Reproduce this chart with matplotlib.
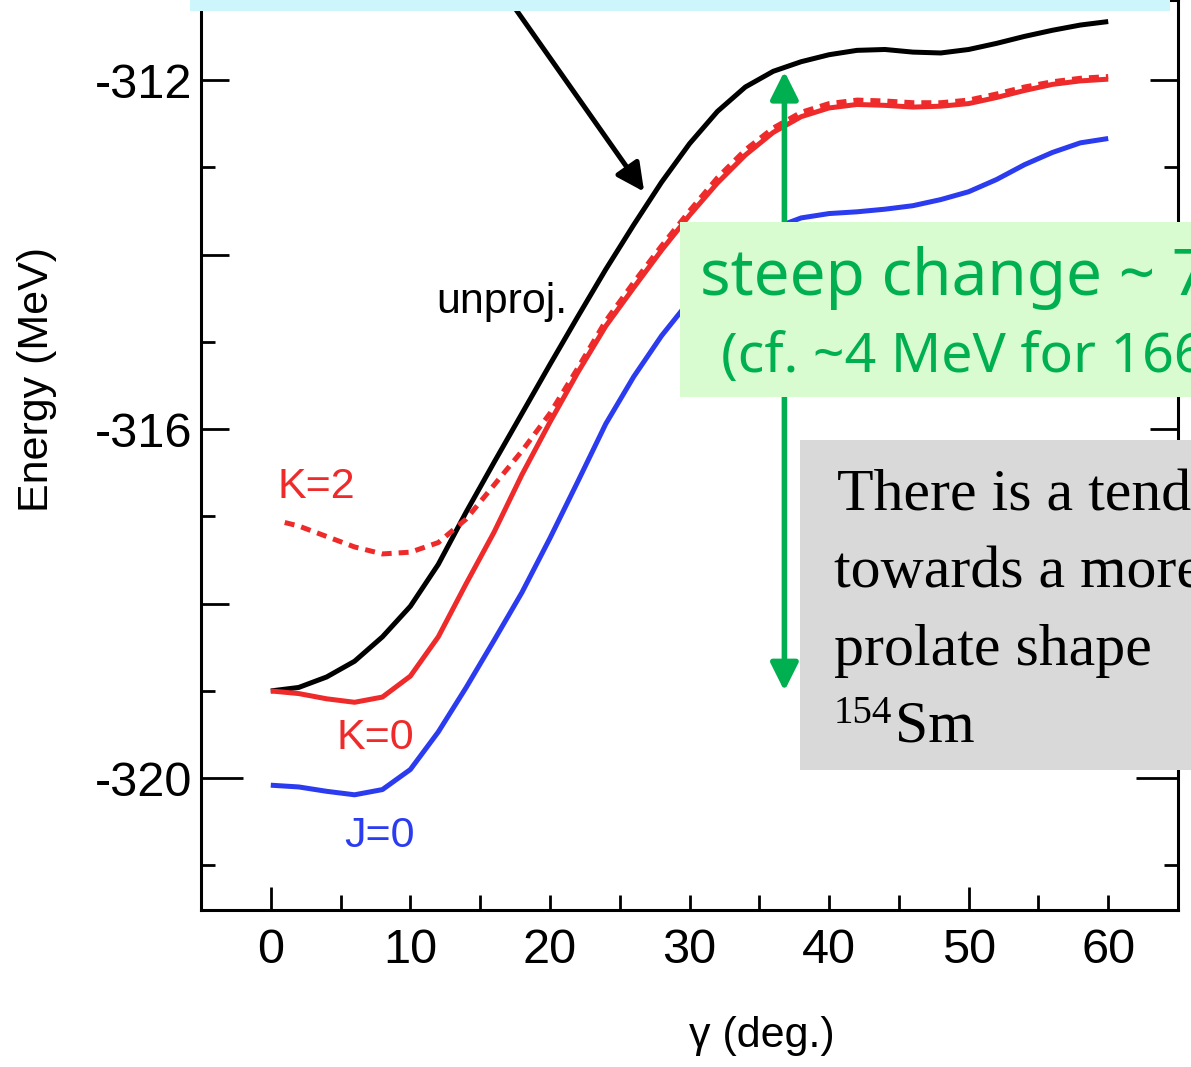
import matplotlib
matplotlib.use("Agg")
import matplotlib.pyplot as plt
from matplotlib.patches import Rectangle
from matplotlib.ticker import FixedLocator, FuncFormatter

# gamma grid (deg.)
gamma = [0, 2, 4, 6, 8, 10, 12, 14, 16, 18, 20, 22, 24, 26, 28, 30,
         32, 34, 36, 38, 40, 42, 44, 46, 48, 50, 52, 54, 56, 58, 60]

# unprojected energy surface (MeV)
e_unproj = [-319.00, -318.96, -318.84, -318.66, -318.38, -318.03, -317.55,
            -316.95, -316.38, -315.82, -315.26, -314.71, -314.17, -313.66,
            -313.17, -312.73, -312.36, -312.08, -311.90, -311.79, -311.71,
            -311.66, -311.65, -311.68, -311.69, -311.65, -311.58, -311.50,
            -311.43, -311.37, -311.33]

# K=0 projected energy (MeV)
e_k0 = [-319.00, -319.03, -319.09, -319.13, -319.07, -318.83, -318.38,
        -317.77, -317.18, -316.52, -315.92, -315.35, -314.82, -314.38,
        -313.95, -313.55, -313.18, -312.86, -312.60, -312.42, -312.32,
        -312.28, -312.29, -312.31, -312.30, -312.27, -312.20, -312.12,
        -312.05, -312.01, -311.99]

# K=2 projected energy (MeV), defined from gamma = 1 deg.
gamma_k2 = [1, 2, 4, 6, 8, 10, 12, 14, 16, 18, 20, 22, 24, 26, 28, 30,
            32, 34, 36, 38, 40, 42, 44, 46, 48, 50, 52, 54, 56, 58, 60]
e_k2 = [-317.07, -317.11, -317.23, -317.35, -317.43, -317.41, -317.30,
        -317.03, -316.64, -316.25, -315.82, -315.30, -314.76, -314.32,
        -313.90, -313.50, -313.12, -312.80, -312.55, -312.37, -312.27,
        -312.23, -312.24, -312.26, -312.26, -312.23, -312.16, -312.08,
        -312.02, -311.98, -311.96]

# J=0 projected energy (MeV)
e_j0 = [-320.08, -320.10, -320.15, -320.19, -320.13, -319.90, -319.47,
        -318.96, -318.42, -317.87, -317.25, -316.60, -315.94, -315.40,
        -314.93, -314.53, -314.19, -313.92, -313.70, -313.58, -313.53,
        -313.51, -313.48, -313.44, -313.37, -313.28, -313.14, -312.97,
        -312.83, -312.72, -312.67]

x_ticks = [0, 10, 20, 30, 40, 50, 60]
x_minor = [5, 15, 25, 35, 45, 55]
y_major = [-320, -318, -316, -314, -312]
y_minor = [-321, -319, -317, -315, -313]
y_labelled = [-320, -316, -312]

# green double arrow: energy gap at gamma ~ 37 deg
gap_gamma = 36.8
gap_top, gap_bottom = -311.9, -319.0

W, H = 1191, 1067
fig = plt.figure(figsize=(W / 100, H / 100), dpi=100)
fig.patch.set_facecolor("white")

def fx(px):
    return px / W

def fy(py):
    return 1 - py / H

ax = fig.add_axes([fx(201), fy(910), fx(1178) - fx(201), fy(0) - fy(910)])
ax.set_xlim(-5, 65)
ax.set_ylim(-321.51, -311.083)

RED = "#EE2A2A"
BLUE = "#2B3BF0"
GREEN = "#00B050"
LW = 3.6

line_kw = dict(lw=LW, solid_joinstyle="round", solid_capstyle="butt", zorder=3)
ax.plot(gamma, e_unproj, color="black", **line_kw)
ax.plot(gamma, e_k0, color=RED, **line_kw)
ax.plot(gamma_k2, e_k2, color=RED, lw=LW, linestyle=(0, (2.0, 1.4)),
        dash_capstyle="butt", zorder=3)
ax.plot(gamma, e_j0, color=BLUE, **line_kw)

lab_font = dict(family="Liberation Sans", fontsize=31)
ax.text(11.87, -314.67, "unproj.", color="black", va="baseline", ha="left", **lab_font)
ax.text(0.5, -316.79, "K=2", color=RED, va="baseline", ha="left", **lab_font)
ax.text(4.72, -319.66, "K=0", color=RED, va="baseline", ha="left", **lab_font)
ax.text(5.29, -320.79, "J=0", color=BLUE, va="baseline", ha="left", **lab_font)

# spines and ticks
for s in ax.spines.values():
    s.set_linewidth(2.2)
ax.xaxis.set_major_locator(FixedLocator(x_ticks))
ax.xaxis.set_minor_locator(FixedLocator(x_minor))
ax.yaxis.set_major_locator(FixedLocator(y_major))
ax.yaxis.set_minor_locator(FixedLocator(y_minor))
ax.yaxis.set_major_formatter(FuncFormatter(
    lambda v, p: f"{int(round(v))}" if int(round(v)) in y_labelled else ""))
ax.tick_params(axis="x", which="both", direction="in", length=11, width=2,
               top=False, bottom=True, labelsize=35, pad=13)
ax.tick_params(axis="y", which="major", direction="in", length=20, width=2,
               left=True, right=True, labelsize=35, pad=6)
ax.tick_params(axis="y", which="minor", direction="in", length=10, width=2,
               left=True, right=True)
for lab in ax.get_xticklabels() + ax.get_yticklabels():
    lab.set_family("Liberation Sans")

xt = ax.xaxis.get_major_ticks(len(x_ticks))
for i in (0, 5):
    xt[i].tick1line.set_markersize(16.5)
yt = ax.yaxis.get_major_ticks(len(y_major))
yt[0].tick1line.set_markersize(30)
yt[0].tick2line.set_markersize(30)

fig.text(fx(37), fy(380), "Energy (MeV)", rotation=90, ha="center", va="center",
         family="Liberation Sans", fontsize=31)
fig.text(fx(762), fy(1036), "\u03b3 (deg.)", ha="center", va="center",
         family="Liberation Sans", fontsize=31)

# arrows
ax.annotate("", xy=(gap_gamma, gap_top), xytext=(gap_gamma, gap_bottom),
            arrowprops=dict(arrowstyle="<|-|>", color=GREEN, lw=4,
                            mutation_scale=42, shrinkA=0, shrinkB=0), zorder=4)
ax.annotate("", xy=(26.75, -313.28), xytext=(17.6, -311.20),
            arrowprops=dict(arrowstyle="-|>", color="black", lw=3.6,
                            mutation_scale=42, shrinkA=0, shrinkB=0), zorder=4)

# overlay boxes
fig.add_artist(Rectangle((fx(190), fy(11)), fx(1170) - fx(190), fy(0) - fy(11),
                         transform=fig.transFigure, facecolor="#CCF5FC",
                         edgecolor="none", zorder=5))
fig.add_artist(Rectangle((fx(680), fy(397)), fx(1191) - fx(680), fy(222) - fy(397),
                         transform=fig.transFigure, facecolor="#D8FCD0",
                         edgecolor="none", zorder=5))
fig.add_artist(Rectangle((fx(800), fy(770)), fx(1191) - fx(800), fy(440) - fy(770),
                         transform=fig.transFigure, facecolor="#D9D9D9",
                         edgecolor="none", zorder=5))

fig.text(fx(700), fy(295), "steep change ~ 7 MeV", color=GREEN, ha="left",
         va="baseline", family="Noto Sans", fontsize=46, zorder=6)
fig.text(fx(721), fy(372), "(cf. ~4 MeV for 166Er)", color=GREEN, ha="left",
         va="baseline", family="Noto Sans", fontsize=40, zorder=6)

serif = dict(family="Liberation Serif", color="black", ha="left",
             va="baseline", zorder=6)
fig.text(fx(837), fy(510), "There is a tendency", fontsize=43, **serif)
fig.text(fx(834), fy(587), "towards a more", fontsize=43, **serif)
fig.text(fx(834), fy(665), "prolate shape", fontsize=43, **serif)
fig.text(fx(834), fy(723), "154", fontsize=28, **serif)
fig.text(fx(895), fy(742), "Sm", fontsize=43, **serif)

fig.savefig("out.png", dpi=100)
